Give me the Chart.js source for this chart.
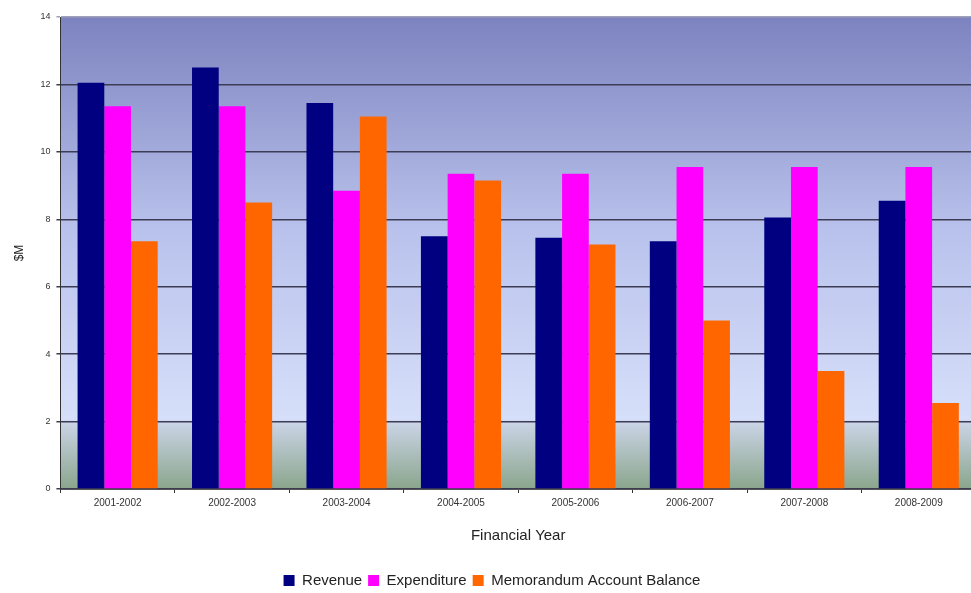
<!DOCTYPE html>
<html>
<head>
<meta charset="utf-8">
<script src="https://cdn.jsdelivr.net/npm/chart.js@4/dist/chart.umd.min.js"></script>
<style>
  html, body { margin: 0; padding: 0; background: #fff; overflow: hidden; }
  #wrap { width: 982px; height: 602px; }
</style>
</head>
<body>
<div id="wrap"><canvas id="c"></canvas></div>
<script>
const years = ['2001-2002','2002-2003','2003-2004','2004-2005','2005-2006','2006-2007','2007-2008','2008-2009'];
const revenue = [12.05, 12.5, 11.45, 7.5, 7.45, 7.35, 8.05, 8.55];
const expenditure = [11.35, 11.35, 8.85, 9.35, 9.35, 9.55, 9.55, 9.55];
const balance = [7.35, 8.5, 11.05, 9.15, 7.25, 5.0, 3.5, 2.55];

// Paint the plot area with the blue-to-green wash before anything else
const plotBackground = {
  id: 'plotBackground',
  beforeDraw(chart) {
    const { ctx, chartArea: a, scales } = chart;
    const g = ctx.createLinearGradient(0, a.top, 0, a.bottom);
    const two = (scales.y.getPixelForValue(2) - a.top) / (a.bottom - a.top);
    g.addColorStop(0, '#7d83bf');
    g.addColorStop(0.45, '#b9c2ec');
    g.addColorStop(two - 0.005, '#d6dff9');
    g.addColorStop(two + 0.005, '#c9d3e4');
    g.addColorStop(1, '#8aa58c');
    ctx.save();
    ctx.fillStyle = g;
    ctx.fillRect(a.left, a.top, a.right - a.left, a.bottom - a.top);
    ctx.restore();
  }
};

new Chart(document.getElementById('c'), {
  type: 'bar',
  data: {
    labels: years,
    datasets: [
      { label: 'Revenue', data: revenue, backgroundColor: '#000080' },
      { label: 'Expenditure', data: expenditure, backgroundColor: '#ff00ff' },
      { label: 'Memorandum Account Balance', data: balance, backgroundColor: '#ff6600' }
    ]
  },
  plugins: [plotBackground],
  options: {
    responsive: true,
    maintainAspectRatio: false,
    animation: false,
    categoryPercentage: 0.7,
    barPercentage: 1.0,
    layout: { padding: { top: 17, right: 6, left: 8, bottom: 4 } },
    plugins: {
      tooltip: { enabled: false },
      legend: {
        position: 'bottom',
        labels: {
          color: '#222',
          font: { family: 'Liberation Sans', size: 15 },
          boxWidth: 11,
          boxHeight: 11,
          padding: 6
        }
      }
    },
    scales: {
      x: {
        grid: { drawOnChartArea: false, color: '#333', tickLength: 4 },
        border: { color: '#555' },
        ticks: { color: '#333', font: { family: 'Liberation Sans', size: 10 }, padding: 4 },
        title: {
          display: true, text: 'Financial Year', color: '#222',
          font: { family: 'Liberation Sans', size: 15 }, padding: { top: 14, bottom: 22 }
        }
      },
      y: {
        min: 0, max: 14,
        ticks: { stepSize: 2, color: '#333', font: { family: 'Liberation Sans', size: 9 }, padding: 6 },
        grid: {
          color: ctx => ctx.tick.value === 14 ? '#a0a0b8' : '#3c3c55',
          lineWidth: 1.5,
          tickLength: 4
        },
        border: { color: '#333' },
        title: {
          display: true, text: '$M', color: '#222',
          font: { family: 'Liberation Sans', size: 12 }, padding: { bottom: 8 }
        }
      }
    }
  }
});
</script>
</body>
</html>
